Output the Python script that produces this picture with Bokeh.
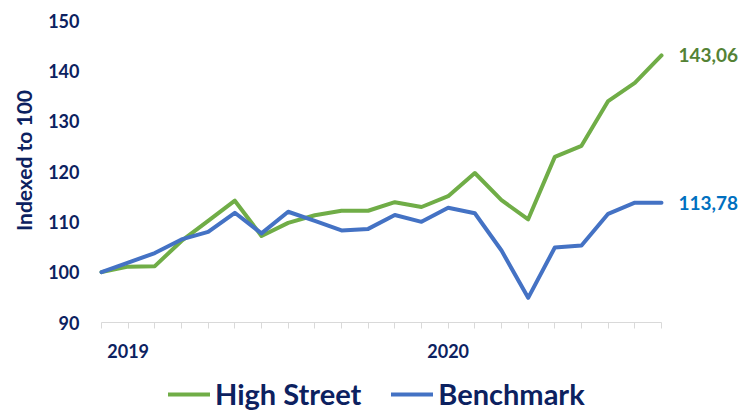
import math
from bokeh.plotting import figure
from bokeh.models import (Range1d, FixedTicker, Legend, LegendItem, Label)
from bokeh.embed import file_html
from bokeh.resources import INLINE

# ---- data ----
periods = list(range(22))
tick_labels = ["", "2019", "", "", "", "", "", "", "", "", "", "", "",
               "2020", "", "", "", "", "", "", "", ""]
high_street = [100.0, 101.1, 101.2, 106.2, 110.2, 114.2, 107.2, 109.8, 111.3, 112.2,
               112.2, 113.9, 112.95, 115.1, 119.7, 114.3, 110.5, 122.9, 125.1, 134.0,
               137.6, 143.06]
benchmark = [100.0, 101.9, 103.8, 106.5, 108.0, 111.8, 107.7, 112.0, 110.2, 108.3,
             108.6, 111.35, 110.0, 112.8, 111.7, 104.3, 94.9, 104.9, 105.3, 111.6,
             113.8, 113.78]
y_ticks = [90, 100, 110, 120, 130, 140, 150]
series_names = ["High Street", "Benchmark"]
end_labels = ["143,06", "113,78"]
y_title = "Indexed to 100"

GREEN = "#70AD47"
BLUE = "#4472C4"
NAVY = "#0C2160"
FONT = "Lato"

W, H = 746, 410
# pixel layout of the plotting area (left/right of first/last point, top/bottom of 150/90)
PX_LEFT, PX_RIGHT, PX_TOP, PX_BOTTOM = 101, 661, 20, 322
ux = (PX_RIGHT - PX_LEFT) / (periods[-1] - periods[0])
uy = (PX_BOTTOM - PX_TOP) / (y_ticks[-1] - y_ticks[0])
x_range = Range1d(periods[0] - PX_LEFT / ux, periods[-1] + (W - PX_RIGHT) / ux)
y_range = Range1d(y_ticks[0] - (H - PX_BOTTOM) / uy, y_ticks[-1] + PX_TOP / uy)

p = figure(width=W, height=H, x_range=x_range, y_range=y_range,
           output_backend="svg", toolbar_location=None,
           min_border=0, min_border_left=0, min_border_right=0,
           min_border_top=0, min_border_bottom=0)
p.outline_line_color = None
p.grid.visible = False
p.background_fill_color = "white"
p.border_fill_color = "white"

r1 = p.line(periods, high_street, line_color=GREEN, line_width=4,
            line_join="round", line_cap="round")
r2 = p.line(periods, benchmark, line_color=BLUE, line_width=4,
            line_join="round", line_cap="round")

# y axis
ya = p.yaxis[0]
ya.fixed_location = periods[0]
ya.ticker = FixedTicker(ticks=y_ticks)
ya.axis_line_color = None
ya.major_tick_line_color = None
ya.minor_tick_line_color = None
ya.major_tick_out = 0
ya.major_tick_in = 0
ya.major_label_standoff = 22
ya.major_label_text_font = FONT
ya.major_label_text_font_style = "bold"
ya.major_label_text_font_size = "18px"
ya.major_label_text_color = NAVY

# x axis
xa = p.xaxis[0]
xa.fixed_location = y_ticks[0]
xa.ticker = FixedTicker(ticks=periods)
xa.major_label_overrides = {i: t for i, t in zip(periods, tick_labels)}
xa.bounds = (periods[0], periods[-1])
xa.axis_line_color = "#D9D9D9"
xa.axis_line_width = 1
xa.major_tick_line_color = "#D9D9D9"
xa.major_tick_out = 6
xa.major_tick_in = 0
xa.minor_tick_line_color = None
xa.major_label_standoff = 15
xa.major_label_text_font = FONT
xa.major_label_text_font_style = "bold"
xa.major_label_text_font_size = "18px"
xa.major_label_text_color = NAVY

# y title
p.add_layout(Label(x=periods[0], y=y_ticks[-1], x_offset=-78.5, y_offset=-140,
                   text=y_title, angle=math.pi / 2,
                   text_align="center", text_baseline="middle",
                   text_font=FONT, text_font_style="bold",
                   text_font_size="21px", text_color=NAVY))

# end value labels
p.add_layout(Label(x=periods[-1], y=high_street[-1], x_offset=17, text=end_labels[0],
                   text_baseline="middle", text_font=FONT, text_font_style="bold",
                   text_font_size="19px", text_color="#548235"))
p.add_layout(Label(x=periods[-1], y=benchmark[-1], x_offset=17, text=end_labels[1],
                   text_baseline="middle", text_font=FONT, text_font_style="bold",
                   text_font_size="19px", text_color="#0070C0"))

legend = Legend(items=[LegendItem(label=series_names[0], renderers=[r1]),
                       LegendItem(label=series_names[1], renderers=[r2])],
                orientation="horizontal", location=(168, -1),
                border_line_color=None, background_fill_alpha=0,
                label_text_font=FONT, label_text_font_style="bold",
                label_text_font_size="29px", label_text_color=NAVY,
                glyph_width=42, glyph_height=20, label_standoff=5,
                spacing=30, padding=0, margin=0)
p.add_layout(legend, "center")

open("out.html", "w").write(file_html(p, INLINE))
